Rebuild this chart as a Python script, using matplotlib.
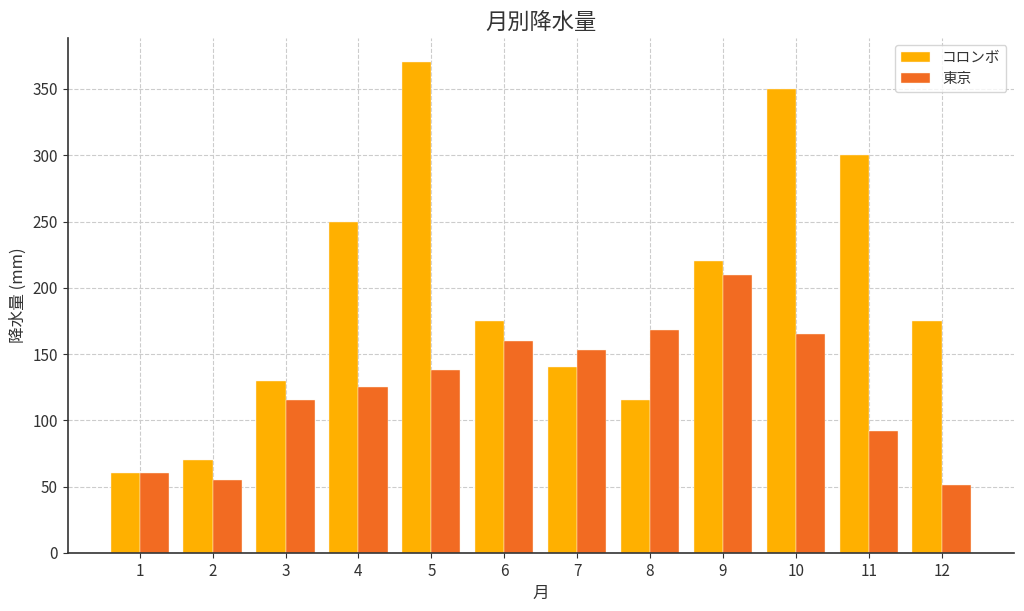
import numpy as np
import matplotlib.pyplot as plt

plt.rcParams['font.family'] = ['Noto Sans CJK JP', 'DejaVu Sans']

months = np.arange(1, 13)
colombo = [60, 70, 130, 250, 370, 175, 140, 115, 220, 350, 300, 175]
tokyo = [60, 55, 115, 125, 138, 160, 153, 168, 210, 165, 92, 51]

text_color = "#333333"
width = 0.4

fig, ax = plt.subplots(figsize=(10.24, 6.11), dpi=100)
ax.bar(months - width / 2, colombo, width, color="#FFB000", edgecolor="#fff3e0", linewidth=0.3, label="コロンボ", zorder=2)
ax.bar(months + width / 2, tokyo, width, color="#F26B22", edgecolor="#fff3e0", linewidth=0.3, label="東京", zorder=2)

ax.set_title("月別降水量", fontsize=16, color=text_color)
ax.set_xlabel("月", fontsize=12, color=text_color)
ax.set_ylabel("降水量 (mm)", fontsize=12, color=text_color)
ax.set_xticks(months)
ax.tick_params(colors=text_color, labelsize=11)
ax.grid(True, linestyle="--", color="#cccccc", linewidth=0.8, zorder=0)
ax.set_axisbelow(True)
for s in ["top", "right"]:
    ax.spines[s].set_visible(False)
for s in ["left", "bottom"]:
    ax.spines[s].set_color(text_color)
    ax.spines[s].set_linewidth(1.2)
leg = ax.legend(loc="upper right", fontsize=10.5)
for t in leg.get_texts():
    t.set_color(text_color)

fig.subplots_adjust(left=0.066, right=0.99, top=0.938, bottom=0.095)
fig.savefig("out.png")
